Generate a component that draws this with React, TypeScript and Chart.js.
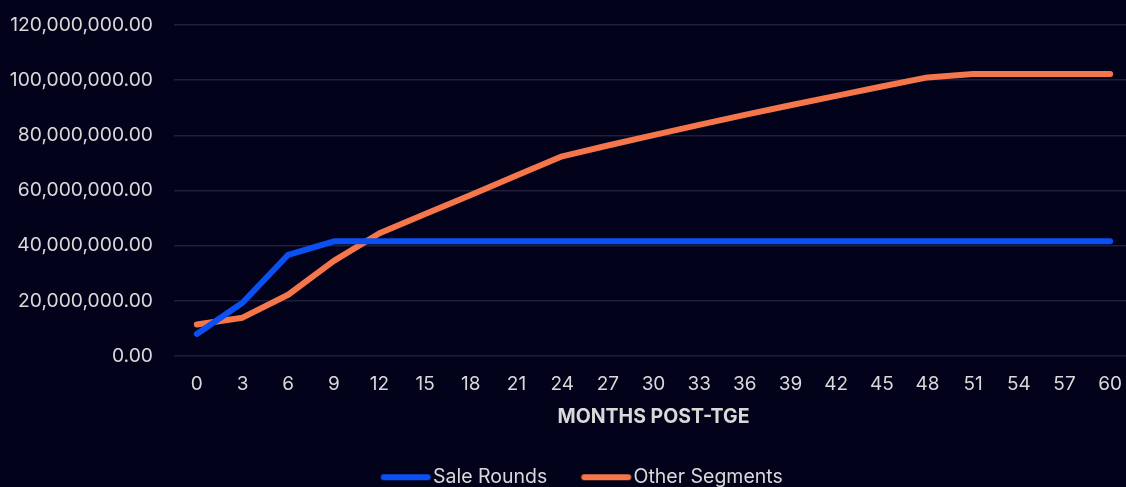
import React, { useEffect, useRef } from "react";
import { Chart, registerables } from "chart.js";

Chart.register(...registerables);

// Month markers along the horizontal axis (every 3 months after TGE)
const months: string[] = [
  "0", "3", "6", "9", "12", "15", "18", "21", "24", "27", "30",
  "33", "36", "39", "42", "45", "48", "51", "54", "57", "60",
];

// Cumulative unlocked tokens for the sale rounds
const saleRounds: number[] = [
  8000000, 19300000, 36700000, 41600000, 41600000, 41600000, 41600000,
  41600000, 41600000, 41600000, 41600000, 41600000, 41600000, 41600000,
  41600000, 41600000, 41600000, 41600000, 41600000, 41600000, 41600000,
];

// Cumulative unlocked tokens for all other segments
const otherSegments: number[] = [
  11400000, 13900000, 22200000, 34500000, 44500000, 51500000, 58400000,
  65400000, 72400000, 76300000, 80100000, 83800000, 87400000, 90900000,
  94300000, 97700000, 101000000, 102200000, 102200000, 102200000, 102200000,
];

const yTickValues: number[] = [0, 20000000, 40000000, 60000000, 80000000, 100000000, 120000000];

const BG = "#02021a";
const TEXT = "#d9d9d9";
const GRID = "#1f1e3b";
const BLUE = "#0b50f2";
const ORANGE = "#f4764a";
const FONT = "Inter, 'Noto Sans', sans-serif";

// Legend swatch: a short thick line, nudged right so it sits close to its label
function legendSwatch(color: string): HTMLCanvasElement {
  const c = document.createElement("canvas");
  c.width = 80;
  c.height = 10;
  const ctx = c.getContext("2d")!;
  ctx.strokeStyle = color;
  ctx.lineWidth = 6;
  ctx.lineCap = "round";
  ctx.beginPath();
  ctx.moveTo(25.5, 5);
  ctx.lineTo(69.5, 5);
  ctx.stroke();
  return c;
}

// Shifts the legend block a little to the right of the default centre
const legendNudge = {
  id: "legendNudge",
  afterLayout(chart: any) {
    if (chart.legend) chart.legend.left += 13;
  },
};

export default function App() {
  const canvasRef = useRef<HTMLCanvasElement | null>(null);

  useEffect(() => {
    document.body.style.margin = "0";
    document.body.style.background = BG;
    const canvas = canvasRef.current;
    if (!canvas) return;

    const chart = new Chart(canvas, {
      type: "line",
      data: {
        labels: months,
        datasets: [
          {
            label: "Sale Rounds",
            data: saleRounds,
            borderColor: BLUE,
            backgroundColor: BLUE,
            borderWidth: 6,
            borderCapStyle: "round",
            borderJoinStyle: "round",
            pointRadius: 0,
            pointStyle: legendSwatch(BLUE),
            tension: 0,
          },
          {
            label: "Other Segments",
            data: otherSegments,
            borderColor: ORANGE,
            backgroundColor: ORANGE,
            borderWidth: 6,
            borderCapStyle: "round",
            borderJoinStyle: "round",
            pointRadius: 0,
            pointStyle: legendSwatch(ORANGE),
            tension: 0,
          },
        ],
      },
      plugins: [legendNudge],
      options: {
        responsive: false,
        animation: false,
        layout: { padding: { top: 25, left: 10, right: 27, bottom: 0 } },
        plugins: {
          tooltip: { enabled: false },
          legend: {
            position: "bottom",
            labels: {
              usePointStyle: true,
              pointStyleWidth: 50,
              padding: 26.5,
              color: TEXT,
              font: { family: FONT, size: 19.5 },
            },
          },
        },
        scales: {
          x: {
            offset: true,
            grid: { display: false, drawTicks: false },
            border: { display: false },
            ticks: {
              color: TEXT,
              padding: 17,
              maxRotation: 0,
              autoSkip: false,
              font: { family: FONT, size: 19 },
            },
            title: {
              display: true,
              text: "MONTHS POST-TGE",
              color: TEXT,
              font: { family: FONT, size: 19.5, weight: "bold" },
              padding: { top: 0, bottom: 12 },
            },
            afterFit: (scale: any) => {
              scale.height = 85;
            },
          },
          y: {
            min: 0,
            max: 120000000,
            grid: {
              color: GRID,
              lineWidth: 1.5,
              drawTicks: true,
              tickLength: 21,
              tickColor: "rgba(0,0,0,0)",
            },
            border: { display: false },
            afterBuildTicks: (scale: any) => {
              scale.ticks = yTickValues.map((v) => ({ value: v }));
            },
            ticks: {
              color: TEXT,
              padding: 0,
              font: { family: FONT, size: 19.3 },
              callback: (v: any) =>
                Number(v).toLocaleString("en-US", {
                  minimumFractionDigits: 2,
                  maximumFractionDigits: 2,
                }),
            },
            afterFit: (scale: any) => {
              scale.width = 164;
            },
          },
        },
      },
    });

    return () => chart.destroy();
  }, []);

  return (
    <div
      style={{
        position: "fixed",
        left: 0,
        top: 0,
        width: 1126,
        height: 487,
        overflow: "hidden",
        background: BG,
      }}
    >
      <canvas ref={canvasRef} width={1160} height={497} style={{ display: "block" }} />
    </div>
  );
}
